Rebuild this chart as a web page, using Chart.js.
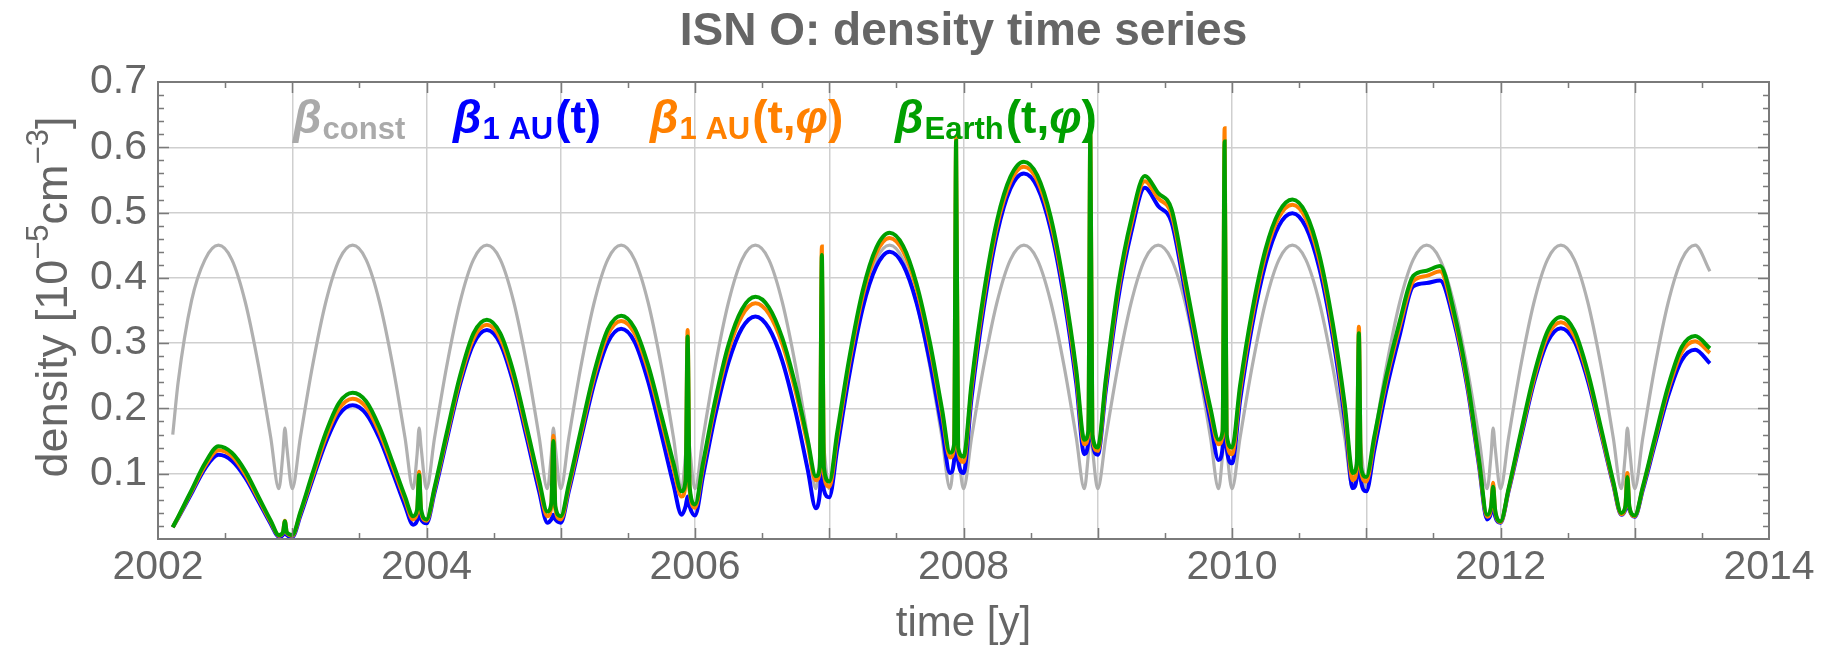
<!DOCTYPE html>
<html>
<head>
<meta charset="utf-8">
<script src="https://cdn.jsdelivr.net/npm/chart.js"></script>
<style>
  html, body { margin: 0; background: #fff; }
</style>
</head>
<body>
<canvas id="chart" width="1831" height="650"></canvas>
<script>
// time axis (years), shared by all four series
const times = [
  2002.11, 2002.15, 2002.25, 2002.35, 2002.45, 2002.55, 2002.65, 2002.75, 2002.84, 2002.9, 2002.93, 2002.945, 2002.96,
  2003, 2003.06, 2003.15, 2003.25, 2003.35, 2003.45, 2003.55, 2003.65, 2003.75, 2003.84, 2003.9, 2003.93, 2003.945, 2003.96,
  2004, 2004.06, 2004.15, 2004.25, 2004.35, 2004.45, 2004.55, 2004.65, 2004.75, 2004.84, 2004.9, 2004.93, 2004.945, 2004.96,
  2005, 2005.06, 2005.15, 2005.25, 2005.35, 2005.45, 2005.55, 2005.65, 2005.75, 2005.84, 2005.9, 2005.93, 2005.945, 2005.96,
  2006, 2006.06, 2006.15, 2006.25, 2006.35, 2006.45, 2006.55, 2006.65, 2006.75, 2006.84, 2006.9, 2006.93, 2006.945, 2006.96,
  2007, 2007.06, 2007.15, 2007.25, 2007.35, 2007.45, 2007.55, 2007.65, 2007.75, 2007.84, 2007.9, 2007.93, 2007.945, 2007.96,
  2008, 2008.06, 2008.15, 2008.25, 2008.35, 2008.45, 2008.55, 2008.65, 2008.75, 2008.84, 2008.9, 2008.93, 2008.945, 2008.96,
  2009, 2009.06, 2009.15, 2009.25, 2009.35, 2009.45, 2009.55, 2009.65, 2009.75, 2009.84, 2009.9, 2009.93, 2009.945, 2009.96,
  2010, 2010.06, 2010.15, 2010.25, 2010.35, 2010.45, 2010.55, 2010.65, 2010.75, 2010.84, 2010.9, 2010.93, 2010.945, 2010.96,
  2011, 2011.06, 2011.15, 2011.25, 2011.35, 2011.45, 2011.55, 2011.65, 2011.75, 2011.84, 2011.9, 2011.93, 2011.945, 2011.96,
  2012, 2012.06, 2012.15, 2012.25, 2012.35, 2012.45, 2012.55, 2012.65, 2012.75, 2012.84, 2012.9, 2012.93, 2012.945, 2012.96,
  2013, 2013.06, 2013.15, 2013.25, 2013.35, 2013.45, 2013.56
];

// beta_const (gray)
const betaConst = [
  .160, .240, .365, .428, .450, .428, .363, .264, .155, .077, .130, .170, .140,
  .077, .155, .264, .363, .428, .450, .428, .363, .264, .155, .077, .130, .170, .140,
  .077, .155, .264, .363, .428, .450, .428, .363, .264, .155, .077, .130, .170, .140,
  .077, .155, .264, .363, .428, .450, .428, .363, .264, .155, .077, .130, .170, .140,
  .077, .155, .264, .363, .428, .450, .428, .363, .264, .155, .077, .130, .170, .140,
  .077, .155, .264, .363, .428, .450, .428, .363, .264, .155, .077, .130, .170, .140,
  .077, .155, .264, .363, .428, .450, .428, .363, .264, .155, .077, .130, .170, .140,
  .077, .155, .264, .363, .428, .450, .428, .363, .264, .155, .077, .130, .170, .140,
  .077, .155, .264, .363, .428, .450, .428, .363, .264, .155, .077, .130, .170, .140,
  .077, .155, .264, .363, .428, .450, .428, .363, .264, .155, .077, .130, .170, .140,
  .077, .155, .264, .363, .428, .450, .428, .363, .264, .155, .077, .130, .170, .140,
  .077, .155, .264, .363, .428, .450, .410
];

// beta_1AU(t) (blue)
const beta1AU = [
  .018, .032, .070, .108, .129, .120, .094, .057, .023, .003, .006, .015, .006,
  .003, .035, .090, .148, .191, .205, .192, .154, .101, .051, .022, .028, .045, .030,
  .024, .071, .151, .237, .299, .320, .299, .237, .152, .072, .025, .030, .037, .030,
  .025, .073, .153, .239, .301, .322, .302, .242, .160, .083, .037, .050, .065, .050,
  .036, .097, .189, .271, .323, .341, .323, .273, .194, .106, .047, .070, .119, .075,
  .064, .139, .252, .354, .417, .440, .420, .362, .271, .169, .101, .120, .218, .120,
  .101, .216, .353, .468, .537, .560, .539, .474, .367, .238, .130, .150, .310, .150,
  .129, .228, .365, .470, .538, .510, .485, .380, .272, .180, .121, .140, .274, .140,
  .116, .212, .327, .422, .480, .499, .478, .415, .310, .183, .078, .095, .157, .090,
  .073, .136, .229, .313, .387, .392, .396, .336, .236, .112, .030, .040, .060, .035,
  .025, .073, .153, .240, .302, .323, .303, .243, .160, .083, .037, .045, .060, .045,
  .034, .075, .145, .220, .274, .290, .269
];

// beta_1AU(t,phi) (orange)
const beta1AUPhi = [
  .018, .033, .073, .112, .136, .127, .099, .061, .026, .005, .009, .028, .009,
  .005, .039, .095, .156, .200, .215, .202, .163, .110, .060, .030, .040, .103, .040,
  .028, .076, .157, .244, .307, .328, .307, .246, .161, .082, .035, .050, .158, .045,
  .030, .079, .161, .249, .313, .334, .315, .259, .181, .108, .065, .085, .320, .075,
  .048, .111, .205, .289, .342, .361, .345, .299, .226, .144, .090, .105, .448, .100,
  .080, .156, .270, .373, .438, .461, .441, .384, .293, .192, .125, .140, .615, .135,
  .118, .231, .367, .480, .547, .570, .549, .485, .379, .251, .145, .160, .637, .155,
  .135, .238, .377, .482, .548, .522, .497, .392, .282, .193, .145, .160, .629, .155,
  .130, .226, .340, .436, .493, .512, .491, .428, .322, .196, .090, .110, .325, .105,
  .088, .150, .243, .326, .395, .403, .410, .344, .242, .117, .034, .048, .086, .042,
  .026, .075, .158, .246, .311, .332, .311, .250, .164, .085, .038, .050, .101, .048,
  .035, .078, .151, .229, .286, .303, .285
];

// beta_Earth(t,phi) (green)
const betaEarth = [
  .018, .034, .075, .116, .142, .132, .104, .064, .028, .006, .010, .027, .010,
  .006, .041, .100, .163, .209, .224, .211, .171, .116, .065, .035, .045, .098, .045,
  .030, .079, .162, .250, .315, .336, .315, .254, .168, .089, .042, .055, .150, .050,
  .035, .084, .167, .256, .321, .342, .323, .267, .189, .116, .073, .090, .310, .080,
  .053, .117, .212, .298, .352, .371, .355, .308, .234, .151, .096, .110, .435, .110,
  .088, .164, .278, .381, .446, .469, .449, .391, .301, .199, .132, .145, .610, .140,
  .126, .239, .375, .488, .555, .578, .557, .493, .386, .259, .152, .165, .632, .160,
  .140, .245, .385, .490, .556, .530, .505, .400, .290, .200, .152, .165, .609, .160,
  .140, .235, .349, .444, .501, .520, .499, .436, .331, .206, .101, .115, .315, .110,
  .095, .157, .250, .334, .403, .411, .418, .351, .248, .121, .037, .050, .080, .045,
  .027, .077, .162, .252, .318, .340, .319, .256, .169, .088, .040, .050, .095, .050,
  .036, .080, .155, .235, .294, .311, .292
];

const xGridYears = [2002, 2003, 2004, 2005, 2006, 2007, 2008, 2009, 2010, 2011, 2012, 2013, 2014];
const xTickLabels = ['2002', '2004', '2006', '2008', '2010', '2012', '2014'];
const yTickValues = [0, 0.1, 0.2, 0.3, 0.4, 0.5, 0.6, 0.7];
const yTickLabels = ['', '0.1', '0.2', '0.3', '0.4', '0.5', '0.6', '0.7'];

const FONT = "'Liberation Sans', Arial, sans-serif";
const TEXT = '#666666';

function pts(arr) {
  return times.map((t, i) => ({ x: t, y: arr[i] }));
}

// frame with inward ticks, Mathematica style
const framePlugin = {
  id: 'frame',
  afterDatasetsDraw(chart) {
    const { ctx, chartArea: a, scales: { x, y } } = chart;
    ctx.save();
    ctx.strokeStyle = '#7a7a7a';
    ctx.lineWidth = 1.5;
    ctx.beginPath();
    for (let i = 1; i < 35; i++) {
      const py = Math.round(y.getPixelForValue(i * 0.02)) + 0.5;
      const len = i % 5 === 0 ? 11 : 6;
      ctx.moveTo(a.left, py); ctx.lineTo(a.left + len, py);
      ctx.moveTo(a.right, py); ctx.lineTo(a.right - len, py);
    }
    for (let i = 1; i < 24; i++) {
      const px = Math.round(x.getPixelForValue(2002 + i * 0.5)) + 0.5;
      const len = i % 2 === 0 ? 11 : 6;
      ctx.moveTo(px, a.bottom); ctx.lineTo(px, a.bottom - len);
      ctx.moveTo(px, a.top); ctx.lineTo(px, a.top + len);
    }
    ctx.stroke();
    ctx.lineWidth = 2;
    ctx.strokeRect(a.left, a.top, a.right - a.left, a.bottom - a.top);
    ctx.restore();
  }
};

// title, y-axis title with superscripts, and the in-plot legend
const legendItems = [
  { color: '#aaaaaa', sub: 'const', tail: [] },
  { color: '#0000ff', sub: '1 AU', tail: [['(t)', false]] },
  { color: '#ff8000', sub: '1 AU', tail: [['(t,', false], ['φ', true], [')', false]] },
  { color: '#009f00', sub: 'Earth', tail: [['(t,', false], ['φ', true], [')', false]] }
];
const legendX = [293, 453, 650, 895];

const textPlugin = {
  id: 'texts',
  afterDraw(chart) {
    const { ctx, chartArea: a } = chart;
    ctx.save();
    // title
    ctx.fillStyle = TEXT;
    ctx.font = 'bold 46px ' + FONT;
    ctx.textAlign = 'center';
    ctx.textBaseline = 'alphabetic';
    ctx.fillText('ISN O: density time series', (a.left + a.right) / 2, 45);

    // y axis title, rotated
    ctx.translate(67, 297);
    ctx.rotate(-Math.PI / 2);
    const parts = [['density [10', 45, 0], ['\u22125', 31, -19], ['cm', 45, 0], ['\u22123', 31, -19], [']', 45, 0]];
    let total = 0;
    parts.forEach(p => { ctx.font = p[1] + 'px ' + FONT; total += ctx.measureText(p[0]).width; });
    let cx = -total / 2;
    ctx.textAlign = 'left';
    parts.forEach(p => {
      ctx.font = p[1] + 'px ' + FONT;
      ctx.fillText(p[0], cx, p[2]);
      cx += ctx.measureText(p[0]).width;
    });
    ctx.setTransform(1, 0, 0, 1, 0, 0);

    // legend
    const base = 133;
    legendItems.forEach((it, i) => {
      let px = legendX[i];
      ctx.fillStyle = it.color;
      ctx.font = 'italic bold 46px ' + FONT;
      ctx.fillText('β', px, base);
      px += ctx.measureText('β').width + 1;
      ctx.font = 'bold 31px ' + FONT;
      ctx.fillText(it.sub, px, base + 6);
      px += ctx.measureText(it.sub).width + 2;
      it.tail.forEach(([s, ital]) => {
        ctx.font = (ital ? 'italic ' : '') + 'bold 46px ' + FONT;
        ctx.fillText(s, px, base);
        px += ctx.measureText(s).width;
      });
    });
    ctx.restore();
  }
};

const ctx = document.getElementById('chart').getContext('2d');

const chart = new Chart(ctx, {
  type: 'line',
  data: {
    datasets: [
      { label: 'beta Earth(t,phi)', data: pts(betaEarth), borderColor: '#009f00', borderWidth: 4, order: 0 },
      { label: 'beta 1AU(t,phi)', data: pts(beta1AUPhi), borderColor: '#ff8000', borderWidth: 4, order: 1 },
      { label: 'beta 1AU(t)', data: pts(beta1AU), borderColor: '#0000ff', borderWidth: 4, order: 2 },
      { label: 'beta const', data: pts(betaConst), borderColor: '#b0b0b0', borderWidth: 3.2, order: 3 }
    ]
  },
  options: {
    responsive: false,
    animation: false,
    devicePixelRatio: 1,
    layout: { padding: { top: 82, right: 62, left: 0, bottom: 0 } },
    elements: {
      point: { radius: 0 },
      line: { cubicInterpolationMode: 'monotone', fill: false }
    },
    plugins: {
      legend: { display: false },
      tooltip: { enabled: false },
      title: { display: false }
    },
    scales: {
      x: {
        type: 'linear',
        min: 2002,
        max: 2014,
        afterBuildTicks: s => { s.ticks = xGridYears.map(v => ({ value: v })); },
        afterFit: s => { s.height = 111; },
        ticks: {
          autoSkip: false,
          maxRotation: 0,
          padding: 4,
          color: TEXT,
          font: { family: FONT, size: 41 },
          callback: v => xTickLabels.includes(String(v)) ? String(v) : ''
        },
        grid: { color: '#cfcfcf', lineWidth: 1.5, drawTicks: false },
        border: { display: false },
        title: {
          display: true,
          text: 'time [y]',
          color: TEXT,
          font: { family: FONT, size: 42 },
          padding: { top: 0, bottom: 0 }
        }
      },
      y: {
        min: 0,
        max: 0.7,
        afterBuildTicks: s => { s.ticks = yTickValues.map(v => ({ value: v })); },
        afterFit: s => { s.width = 158; },
        ticks: {
          padding: 11,
          color: TEXT,
          font: { family: FONT, size: 41 },
          callback: (v, i) => yTickLabels[i]
        },
        grid: { color: '#cfcfcf', lineWidth: 1.5, drawTicks: false },
        border: { display: false }
      }
    }
  },
  plugins: [framePlugin, textPlugin]
});
</script>
</body>
</html>
